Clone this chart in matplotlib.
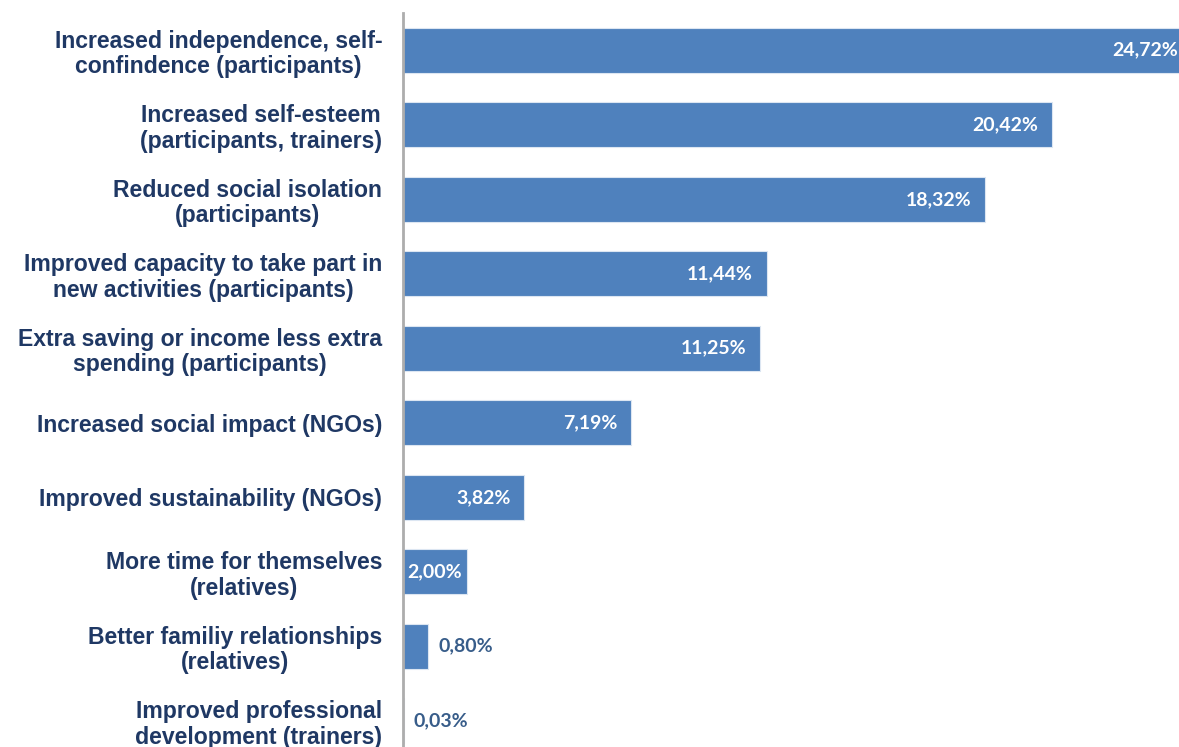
import matplotlib.pyplot as plt

# Anteile der Wirkungsbereiche (in %), von oben nach unten
categories = [
    "Increased independence, self-\nconfindence (participants)",
    "Increased self-esteem\n(participants, trainers)",
    "Reduced social isolation\n(participants)",
    "Improved capacity to take part in\nnew activities (participants)",
    "Extra saving or income less extra\nspending (participants)",
    "Increased social impact (NGOs)",
    "Improved sustainability (NGOs)",
    "More time for themselves\n(relatives)",
    "Better familiy relationships\n(relatives)",
    "Improved professional\ndevelopment (trainers)",
]
values = [24.72, 20.42, 18.32, 11.44, 11.25, 7.19, 3.82, 2.00, 0.80, 0.03]
value_labels = ["24,72%", "20,42%", "18,32%", "11,44%", "11,25%",
                "7,19%", "3,82%", "2,00%", "0,80%", "0,03%"]

bar_color = "#4F81BD"
label_color = "#1F3864"
outside_color = "#385D8A"

fig = plt.figure(figsize=(11.79, 7.47), dpi=100)
# Achse ragt rechts und unten leicht über den Bildrand hinaus
ax = fig.add_axes([403 / 1179, 1 - 758 / 747, 1 - 403 / 1179, 745 / 747])

xmax = 24.42
ypos = list(range(len(values)))
ax.barh(ypos, values, height=0.6, color=bar_color,
        edgecolor="#DCE6F2", linewidth=0.8, zorder=2)

ax.set_xlim(0, xmax)
ax.set_ylim(len(values) - 0.5, -0.5)

ax.set_yticks(ypos)
ax.set_yticklabels(categories, family="Liberation Sans", fontweight="bold",
                   fontsize=16.6, color=label_color, multialignment="center",
                   linespacing=1.15)
ax.tick_params(axis="y", length=0, pad=15)
ax.tick_params(axis="x", bottom=False, labelbottom=False)

for side in ["top", "right", "bottom"]:
    ax.spines[side].set_visible(False)
ax.spines["left"].set_color("#ADADAD")
ax.spines["left"].set_linewidth(2)

# Werte beschriften: innen rechtsbündig, bei kleinen Balken mittig oder außen
for y, v, lab in zip(ypos, values, value_labels):
    font = dict(family="Lato", fontweight="bold", fontsize=14)
    if v > 3:
        ax.annotate(lab, (min(v, xmax), y), xytext=(-10 if v < xmax else -1, 0),
                    textcoords="offset points", ha="right", va="center",
                    color="white", **font)
    elif v > 1.5:
        ax.text(v / 2, y, lab, ha="center", va="center", color="white", **font)
    else:
        ax.annotate(lab, (v, y), xytext=(7, 0), textcoords="offset points",
                    ha="left", va="center", color=outside_color, **font)

fig.savefig("out.png", dpi=100)
